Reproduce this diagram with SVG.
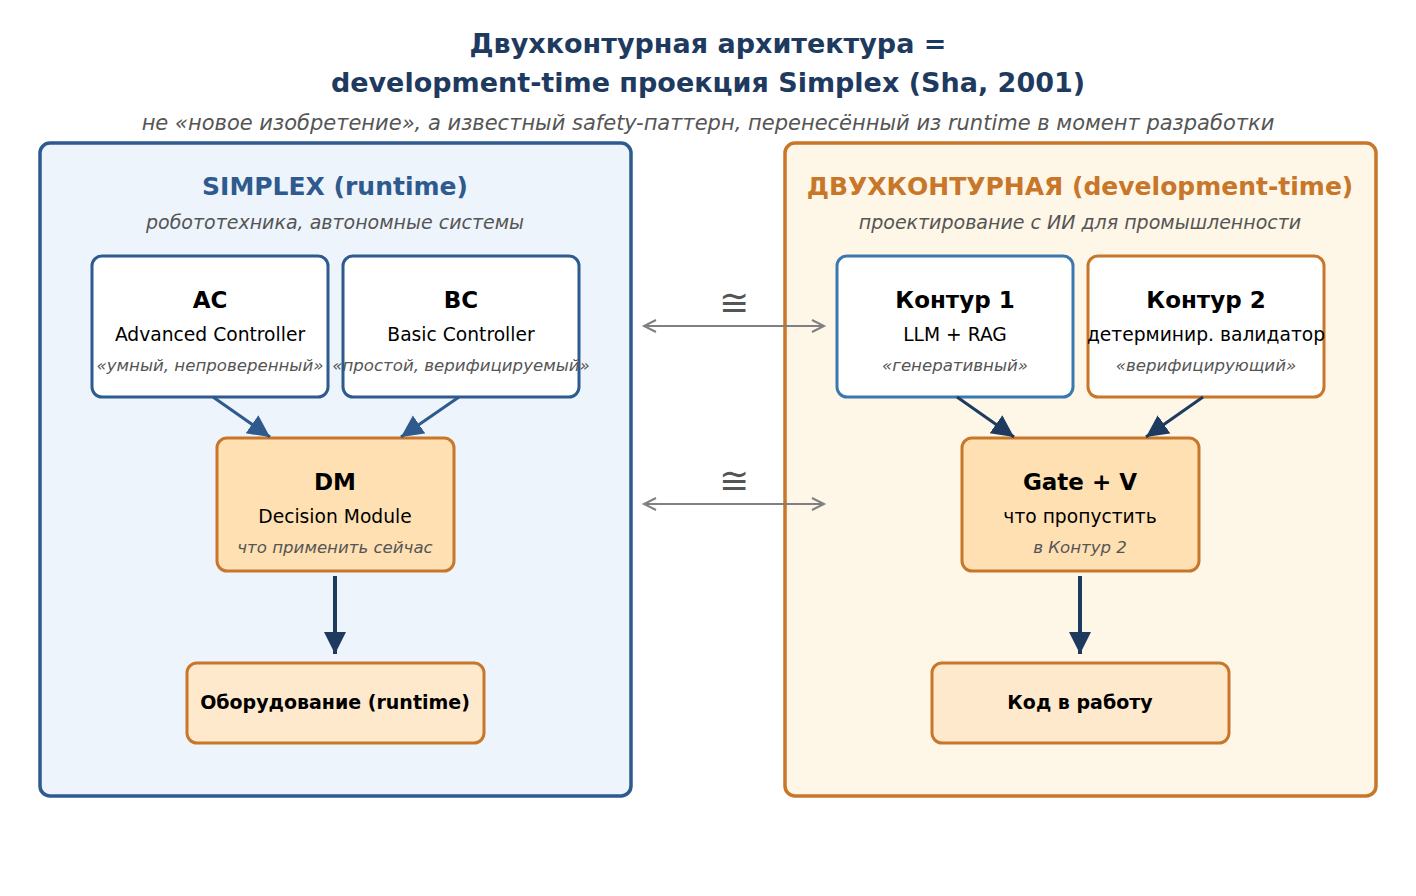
<svg xmlns="http://www.w3.org/2000/svg" width="1416" height="896" viewBox="0 0 1416 896">
<defs>
<marker id="hb" markerUnits="userSpaceOnUse" markerWidth="26" markerHeight="24" refX="22" refY="11" orient="auto"><path d="M0,0 L22,11 L0,22 Z" fill="#2e5a8e"/></marker>
<marker id="hn" markerUnits="userSpaceOnUse" markerWidth="26" markerHeight="24" refX="22" refY="11" orient="auto"><path d="M0,0 L22,11 L0,22 Z" fill="#1f3a5f"/></marker>
<marker id="hg" markerUnits="userSpaceOnUse" markerWidth="16" markerHeight="16" refX="13" refY="8" orient="auto-start-reverse"><path d="M1,2 L13,8 L1,14" fill="none" stroke="#808080" stroke-width="2"/></marker>
</defs>
<style>
text{font-family:"DejaVu Sans","Liberation Sans",sans-serif;text-anchor:middle}
.t{font-size:27px;font-weight:bold;fill:#1f3a5f}
.sub{font-size:21px;font-style:italic;fill:#555}
.ct{font-size:25px;font-weight:bold}
.cs{font-size:19px;font-style:italic;fill:#555}
.h{font-size:23px;font-weight:bold;fill:#000}
.m{font-size:18.7px;fill:#000}
.i{font-size:16.6px;font-style:italic;fill:#555}
.b{font-size:19px;font-weight:bold;fill:#000}
.box{stroke-width:3}
</style>
<rect width="1416" height="896" fill="#fff"/>
<text class="t" x="708" y="53">Двухконтурная архитектура =</text>
<text class="t" x="708" y="92">development-time проекция Simplex (Sha, 2001)</text>
<text class="sub" x="708" y="130">не «новое изобретение», а известный safety-паттерн, перенесённый из runtime в момент разработки</text>

<g id="simplex">
<rect x="40" y="143" width="591" height="653" rx="10" fill="#edf4fb" stroke="#2e5a8e" stroke-width="3.5"/>
<text class="ct" x="335" y="195" fill="#2e5a8e">SIMPLEX (runtime)</text>
<text class="cs" x="335" y="229">робототехника, автономные системы</text>
</g>
<g id="twoloop">
<rect x="785" y="143" width="591" height="653" rx="10" fill="#fef6e6" stroke="#c8762a" stroke-width="3.5"/>
<text class="ct" x="1080" y="195" fill="#c8762a">ДВУХКОНТУРНАЯ (development-time)</text>
<text class="cs" x="1080" y="229">проектирование с ИИ для промышленности</text>
</g>

<g id="ac">
<rect class="box" x="92" y="256" width="236" height="141" rx="10" fill="#fff" stroke="#2e5a8e"/>
<text class="h" x="210" y="308">AC</text>
<text class="m" x="210" y="341">Advanced Controller</text>
<text class="i" x="210" y="371">«умный, непроверенный»</text>
</g>
<g id="bc">
<rect class="box" x="343" y="256" width="236" height="141" rx="10" fill="#fff" stroke="#2e5a8e"/>
<text class="h" x="461" y="308">BC</text>
<text class="m" x="461" y="341">Basic Controller</text>
<text class="i" x="461" y="371">«простой, верифицируемый»</text>
</g>
<g id="dm">
<rect class="box" x="217" y="438" width="237" height="133" rx="10" fill="#ffe0b2" stroke="#c8762a"/>
<text class="h" x="335" y="490">DM</text>
<text class="m" x="335" y="523">Decision Module</text>
<text class="i" x="335" y="553">что применить сейчас</text>
</g>
<g id="hw">
<rect class="box" x="187" y="663" width="297" height="80" rx="10" fill="#ffe9cc" stroke="#c8762a"/>
<text class="b" x="335" y="709">Оборудование (runtime)</text>
</g>

<g id="k1">
<rect class="box" x="837" y="256" width="236" height="141" rx="10" fill="#fff" stroke="#3a78b0"/>
<text class="h" x="955" y="308">Контур 1</text>
<text class="m" x="955" y="341">LLM + RAG</text>
<text class="i" x="955" y="371">«генеративный»</text>
</g>
<g id="k2">
<rect class="box" x="1088" y="256" width="236" height="141" rx="10" fill="#fff" stroke="#c8762a"/>
<text class="h" x="1206" y="308">Контур 2</text>
<text class="m" x="1206" y="341">детерминир. валидатор</text>
<text class="i" x="1206" y="371">«верифицирующий»</text>
</g>
<g id="gate">
<rect class="box" x="962" y="438" width="237" height="133" rx="10" fill="#ffe0b2" stroke="#c8762a"/>
<text class="h" x="1080" y="490">Gate + V</text>
<text class="m" x="1080" y="523">что пропустить</text>
<text class="i" x="1080" y="553">в Контур 2</text>
</g>
<g id="code">
<rect class="box" x="932" y="663" width="297" height="80" rx="10" fill="#ffe9cc" stroke="#c8762a"/>
<text class="b" x="1080" y="709">Код в работу</text>
</g>

<g id="connectors" fill="none">
<line x1="213" y1="397" x2="270" y2="437" stroke="#2e5a8e" stroke-width="3" marker-end="url(#hb)"/>
<line x1="459" y1="397" x2="401" y2="437" stroke="#2e5a8e" stroke-width="3" marker-end="url(#hb)"/>
<line x1="335" y1="576" x2="335" y2="654" stroke="#1f3a5f" stroke-width="4" marker-end="url(#hn)"/>
<line x1="957" y1="397" x2="1014" y2="437" stroke="#1f3a5f" stroke-width="3" marker-end="url(#hn)"/>
<line x1="1203" y1="397" x2="1146" y2="437" stroke="#1f3a5f" stroke-width="3" marker-end="url(#hn)"/>
<line x1="1080" y1="576" x2="1080" y2="654" stroke="#1f3a5f" stroke-width="4" marker-end="url(#hn)"/>
<line x1="644" y1="326" x2="824" y2="326" stroke="#808080" stroke-width="2" marker-start="url(#hg)" marker-end="url(#hg)"/>
<line x1="644" y1="504" x2="824" y2="504" stroke="#808080" stroke-width="2" marker-start="url(#hg)" marker-end="url(#hg)"/>
<text x="734" y="315" font-size="36" fill="#555">≅</text>
<text x="734" y="493" font-size="36" fill="#555">≅</text>
</g>
</svg>
